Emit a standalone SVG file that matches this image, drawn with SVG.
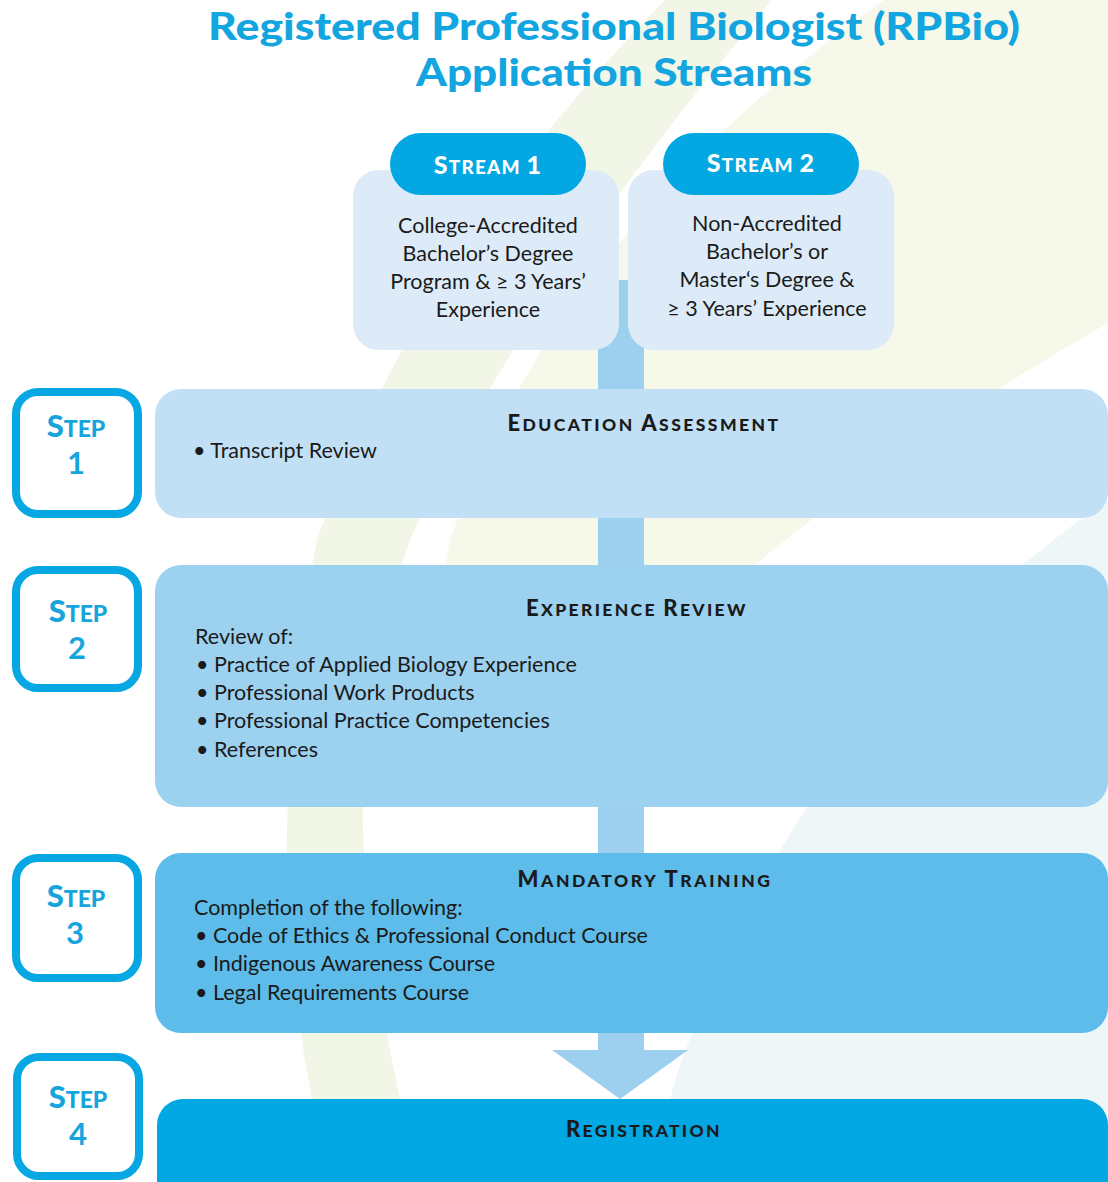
<svg xmlns="http://www.w3.org/2000/svg" width="1108" height="1182" viewBox="0 0 1108 1182">
<style>
.title{font-family:Lato,"Open Sans",sans-serif;font-weight:900;font-size:38px;fill:#13a5df;text-anchor:middle}
.body{font-family:Lato,"Open Sans",sans-serif;font-size:21.5px;fill:#1a1a1a}
.ctr{text-anchor:middle}
.head{font-family:Lato,"Open Sans",sans-serif;font-weight:900;fill:#1a1a1a;text-anchor:middle;font-size:17.5px;letter-spacing:0.5px}
.head .b{font-size:22px}
.pilltxt{font-family:Lato,"Open Sans",sans-serif;font-weight:900;fill:#ffffff;text-anchor:middle;font-size:19px;letter-spacing:1.2px}
.pilltxt .b{font-size:25px}
.steptxt{font-family:Lato,"Open Sans",sans-serif;font-weight:900;fill:#16a4dd;text-anchor:middle;font-size:23px}
.steptxt .b{font-size:31px}
.stepnum{font-family:Lato,"Open Sans",sans-serif;font-weight:bold;fill:#16a4dd;text-anchor:middle;font-size:31px}
.stepbox{fill:#ffffff;stroke:#06a7e2;stroke-width:8}
.sbox{fill:#dcebf7}
.pill{fill:#03a7e2}
</style>
<rect x="0" y="0" width="1108" height="1182" fill="#ffffff"/>
<g id="background">
<path d="M665,0 L772,0 Q520,300 410,540 Q360,680 363,830 Q368,980 420,1182 L330,1182 Q285,1000 287,830 Q292,660 317,540 Q420,250 665,0 Z" fill="#f1f6e7"/>
<path d="M884,0 L1108,0 L1108,323 Q800,500 610,700 Q520,780 430,790 Q430,650 450,540 Q560,230 884,0 Z" fill="#f6f9e9"/>
<path d="M1108,500 L1108,1182 L660,1182 Q665,1080 700,1020 Q820,700 1108,500 Z" fill="#eef6f8"/>
</g>
<g id="title">
<text class="title" x="614" y="40" textLength="812" lengthAdjust="spacingAndGlyphs">Registered Professional Biologist (RPBio)</text>
<text class="title" x="614" y="86" textLength="396" lengthAdjust="spacingAndGlyphs">Application Streams</text>
</g>
<g id="connectors">
<rect x="598" y="280" width="46" height="772" fill="#9dd0ef"/>
<polygon points="552,1050 688,1050 620,1099" fill="#9dd0ef"/>
</g>
<g id="stream1">
<rect class="sbox" x="353" y="170" width="266" height="180" rx="26"/>
<rect class="pill" x="390" y="133" width="196" height="62" rx="31"/>
<text class="pilltxt" x="488" y="174"><tspan class="b">S</tspan>TREAM <tspan class="b">1</tspan></text>
<text class="body ctr" x="488" y="233">College-Accredited</text>
<text class="body ctr" x="488" y="261">Bachelor’s Degree</text>
<text class="body ctr" x="488" y="289">Program &amp; ≥ 3 Years’</text>
<text class="body ctr" x="488" y="317">Experience</text>
</g>
<g id="stream2">
<rect class="sbox" x="628" y="170" width="266" height="180" rx="26"/>
<rect class="pill" x="663" y="133" width="196" height="62" rx="31"/>
<text class="pilltxt" x="761" y="172"><tspan class="b">S</tspan>TREAM <tspan class="b">2</tspan></text>
<text class="body ctr" x="767" y="231">Non-Accredited</text>
<text class="body ctr" x="767" y="259">Bachelor’s or</text>
<text class="body ctr" x="767" y="287">Master‘s Degree &amp;</text>
<text class="body ctr" x="767" y="316">≥ 3 Years’ Experience</text>
</g>
<g id="step1">
<rect class="stepbox" x="16" y="392" width="122" height="122" rx="22"/>
<text class="steptxt" x="76" y="437"><tspan class="b">S</tspan>TEP</text>
<text class="stepnum" x="76" y="474">1</text>
</g>
<g id="step2">
<rect class="stepbox" x="16" y="570" width="122" height="118" rx="22"/>
<text class="steptxt" x="78" y="622"><tspan class="b">S</tspan>TEP</text>
<text class="stepnum" x="77" y="659">2</text>
</g>
<g id="step3">
<rect class="stepbox" x="16" y="858" width="122" height="120" rx="22"/>
<text class="steptxt" x="76" y="907"><tspan class="b">S</tspan>TEP</text>
<text class="stepnum" x="75" y="944">3</text>
</g>
<g id="step4">
<rect class="stepbox" x="17" y="1057" width="122" height="119" rx="22"/>
<text class="steptxt" x="78" y="1108"><tspan class="b">S</tspan>TEP</text>
<text class="stepnum" x="78" y="1145">4</text>
</g>
<g id="panel1">
<rect x="155" y="389" width="953" height="129" rx="26" fill="#c2e0f5"/>
<text class="head" x="643" y="431" textLength="271" lengthAdjust="spacing"><tspan class="b">E</tspan>DUCATION <tspan class="b">A</tspan>SSESSMENT</text>
<text class="body" x="193" y="458">• Transcript Review</text>
</g>
<g id="panel2">
<rect x="155" y="565" width="953" height="242" rx="26" fill="#9dd1f0"/>
<text class="head" x="636" y="616" textLength="220" lengthAdjust="spacing"><tspan class="b">E</tspan>XPERIENCE <tspan class="b">R</tspan>EVIEW</text>
<text class="body" x="195" y="644">Review of:</text>
<text class="body" x="196" y="672">• Practice of Applied Biology Experience</text>
<text class="body" x="196" y="700">• Professional Work Products</text>
<text class="body" x="196" y="728">• Professional Practice Competencies</text>
<text class="body" x="196" y="757">• References</text>
</g>
<g id="panel3">
<rect x="155" y="853" width="953" height="180" rx="26" fill="#5dbce9"/>
<text class="head" x="644" y="887" textLength="253" lengthAdjust="spacing"><tspan class="b">M</tspan>ANDATORY <tspan class="b">T</tspan>RAINING</text>
<text class="body" x="194" y="915">Completion of the following:</text>
<text class="body" x="195" y="943">• Code of Ethics &amp; Professional Conduct Course</text>
<text class="body" x="195" y="971">• Indigenous Awareness Course</text>
<text class="body" x="195" y="1000">• Legal Requirements Course</text>
</g>
<g id="panel4">
<rect x="157" y="1099" width="951" height="110" rx="26" fill="#02a8e3"/>
<text class="head" x="643" y="1137" textLength="154" lengthAdjust="spacing"><tspan class="b">R</tspan>EGISTRATION</text>
</g>
</svg>
